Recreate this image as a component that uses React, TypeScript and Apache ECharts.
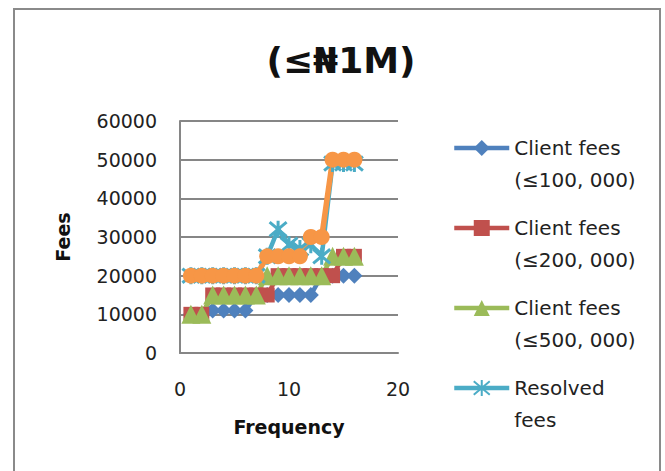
import React, { useEffect, useRef } from "react";
import * as echarts from "echarts";

const frequency = [1, 2, 3, 4, 5, 6, 7, 8, 9, 10, 11, 12, 13, 14, 15, 16];
const clientFees100k = [10000, 10000, 11000, 11000, 11000, 11000, 15000, 15000, 15000, 15000, 15000, 15000, 20000, 20000, 20000, 20000];
const clientFees200k = [10000, 10000, 15000, 15000, 15000, 15000, 15000, 15000, 20000, 20000, 20000, 20000, 20000, 20000, 25000, 25000];
const clientFees500k = [10000, 10000, 15000, 15000, 15000, 15000, 15000, 20000, 20000, 20000, 20000, 20000, 20000, 25000, 25000, 25000];
const resolvedFees = [20000, 20000, 20000, 20000, 20000, 20000, 20000, 25000, 32000, 28000, 27000, 28000, 25000, 49000, 49000, 49000];
const otherFees = [20000, 20000, 20000, 20000, 20000, 20000, 20000, 25000, 25000, 25000, 25000, 30000, 30000, 50000, 50000, 50000];

const seriesNames = [
  "Client fees (≤100, 000)",
  "Client fees (≤200, 000)",
  "Client fees (≤500, 000)",
  "Resolved fees",
];
const fifthSeriesName = "Fees";
const titleText = "(≤₦1M)";
const xAxisName = "Frequency";
const yAxisName = "Fees";

const asterisk = "path://M0,0L10,10M10,0L0,10M5,-1L5,11";

export default function App() {
  const ref = useRef<HTMLDivElement>(null);
  useEffect(() => {
    const chart = echarts.init(ref.current!, null, { renderer: "svg" });
    const font = "DejaVu Sans";
    const mk = (arr: number[]) => frequency.map((x, i) => [x, arr[i]]);
    const line = (name: string, arr: number[], color: string, symbol: string, size: number, width: number, extra: any = {}) => ({
      type: "line",
      name,
      data: mk(arr),
      symbol,
      symbolSize: size,
      lineStyle: { color, width },
      itemStyle: { color, borderColor: color, borderWidth: 0, ...extra },
      emphasis: { disabled: true },
    });
    chart.setOption({
      animation: false,
      backgroundColor: "#fff",
      title: {
        text: titleText,
        left: 336,
        top: 37,
        textAlign: "center",
        textStyle: { fontFamily: font, fontSize: 36, fontWeight: "bold", color: "#111" },
      },
      graphic: [
        {
          type: "rect",
          shape: { x: 14, y: 9, width: 646, height: 480 },
          style: { fill: "none", stroke: "#8a8a8a", lineWidth: 2 },
          silent: true,
        },
      ],
      grid: { left: 180, right: 267, top: 121, bottom: 118, containLabel: false },
      legend: {
        orient: "vertical",
        left: 452,
        top: 100,
        padding: 0,
        itemWidth: 55,
        itemHeight: 20,
        itemGap: -16,
        data: seriesNames,
        lineStyle: { width: 4.5 },
        formatter: (n: string) => "\n" + n.replace(" (", "\n(").replace("Resolved fees", "Resolved\nfees"),
        textStyle: { fontFamily: font, fontSize: 20, color: "#222", lineHeight: 32 },
      },
      xAxis: {
        type: "value",
        min: 0,
        max: 20,
        interval: 10,
        name: xAxisName,
        nameLocation: "middle",
        nameGap: 64,
        nameTextStyle: { fontFamily: font, fontSize: 19, fontWeight: "bold", color: "#111" },
        axisLine: { show: true, onZero: false, lineStyle: { color: "#868686", width: 2 } },
        axisTick: { show: false },
        splitLine: { show: false },
        axisLabel: { fontFamily: font, fontSize: 19, color: "#222", margin: 26 },
      },
      yAxis: {
        type: "value",
        min: 0,
        max: 60000,
        interval: 10000,
        name: yAxisName,
        nameLocation: "middle",
        nameGap: 108,
        nameRotate: 90,
        nameTextStyle: { fontFamily: font, fontSize: 19, fontWeight: "bold", color: "#111" },
        axisLine: { show: true, lineStyle: { color: "#868686", width: 2 } },
        axisTick: { show: false },
        splitLine: { show: true, lineStyle: { color: "#868686", width: 2 } },
        axisLabel: { fontFamily: font, fontSize: 19, color: "#222", margin: 23, formatter: (v: number) => String(v) },
      },
      series: [
        line(seriesNames[0], clientFees100k, "#4F81BD", "diamond", 16, 4.5),
        line(seriesNames[1], clientFees200k, "#C0504D", "rect", 15, 4.5),
        line(seriesNames[2], clientFees500k, "#9BBB59", "triangle", 19, 4.5),
        line(seriesNames[3], resolvedFees, "#4BACC6", asterisk, 17, 4.5, { borderWidth: 3 }),
        line(fifthSeriesName, otherFees, "#F79646", "circle", 16, 5.5),
      ],
    });
    return () => chart.dispose();
  }, []);
  return (
    <div
      ref={ref}
      style={{ position: "fixed", left: 0, top: 0, width: 665, height: 471, background: "#fff" }}
    />
  );
}
